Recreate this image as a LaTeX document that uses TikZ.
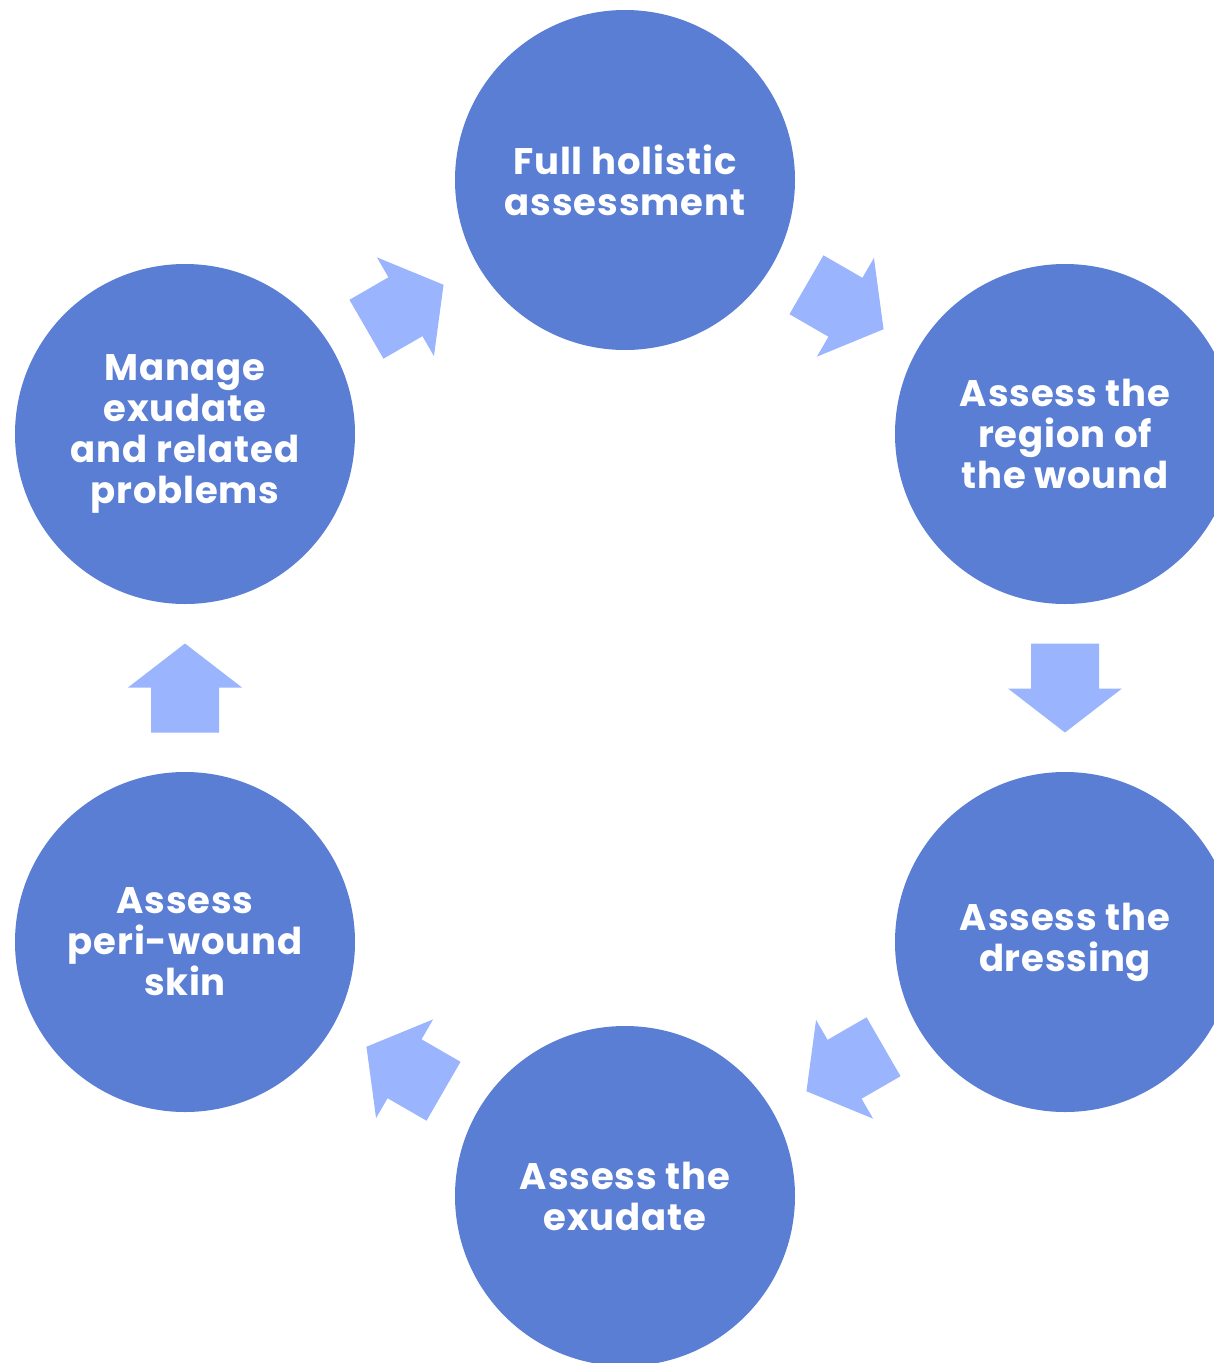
\documentclass[tikz,border=0pt]{standalone}
\usepackage{fontspec}
\setmainfont{Poppins}[LetterSpace=2.3]
\usetikzlibrary{calc}
\definecolor{stepblue}{HTML}{5A7ED4}
\definecolor{arrowblue}{HTML}{9AB4FE}
\tikzset{
  stage/.style={circle, fill=stepblue, draw=none, minimum size=340pt, inner sep=0pt,
    text=white, align=center, font=\bfseries\fontsize{37}{41}\selectfont},
  blockarr/.pic={
    \fill[arrowblue] (-44.5,-34) -- (0.5,-34) -- (0.5,-57) -- (44.5,0)
      -- (0.5,57) -- (0.5,34) -- (-44.5,34) -- cycle;
  }
}
\begin{document}
\begin{tikzpicture}[x=1pt, y=-1pt]
  \useasboundingbox (0,0) rectangle (1214,1363);
  \clip (0,0) rectangle (1214,1363);
  \node[stage] (top) at (625,180)  {Full holistic\\assessment};
  \node[stage] (ur)  at (1065,434) {Assess the\\region of\\the wound};
  \node[stage] (lr)  at (1065,942) {Assess the\\dressing};
  \node[stage] (bot) at (625,1196) {Assess the\\exudate};
  \node[stage] (ll)  at (185,942)  {Assess\\peri-wound\\skin};
  \node[stage] (ul)  at (185,434)  {Manage\\exudate\\and related\\problems};
  % block arrows halfway between consecutive stages
  \pic[rotate=-30]  at ($(top)!0.5!(ur)$)  {blockarr};
  \pic[rotate=-90]  at ($(ur)!0.5!(lr)$)   {blockarr};
  \pic[rotate=-150] at ($(lr)!0.5!(bot)$)  {blockarr};
  \pic[rotate=150]  at ($(bot)!0.5!(ll)$)  {blockarr};
  \pic[rotate=90]   at ($(ll)!0.5!(ul)$)   {blockarr};
  \pic[rotate=30]   at ($(ul)!0.5!(top)$)  {blockarr};
\end{tikzpicture}
\end{document}
